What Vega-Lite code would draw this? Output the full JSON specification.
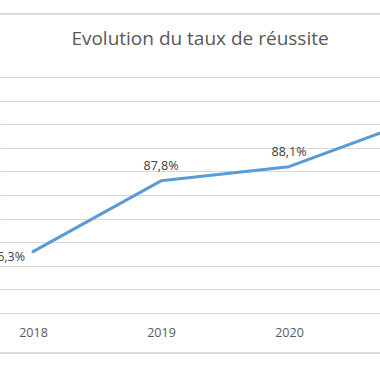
{
  "$schema": "https://vega.github.io/schema/vega-lite/v6.json",
  "autosize": {"type": "none"},
  "width": 380,
  "height": 236,
  "padding": {"top": 77, "left": 0, "right": 0, "bottom": 67},
  "background": "white",
  "title": {
    "text": "Evolution du taux de réussite",
    "font": "Open Sans",
    "fontSize": 19,
    "fontWeight": "normal",
    "color": "#595959",
    "anchor": "middle",
    "dx": 10,
    "offset": -36
  },
  "data": {
    "values": [
      {"annee": 2018, "taux": 86.3, "label": "86,3%"},
      {"annee": 2019, "taux": 87.8, "label": "87,8%"},
      {"annee": 2020, "taux": 88.1, "label": "88,1%"},
      {"annee": 2021, "taux": 89.1, "label": "89,1%"}
    ]
  },
  "config": {
    "view": {"stroke": null},
    "axis": {"labelFont": "Open Sans", "titleFont": "Open Sans"}
  },
  "encoding": {
    "x": {
      "field": "annee",
      "type": "quantitative",
      "scale": {"domain": [2017.742, 2020.711], "nice": false, "zero": false},
      "axis": {
        "title": null,
        "values": [2018, 2019, 2020, 2021],
        "format": "d",
        "grid": false,
        "domain": false,
        "ticks": false,
        "labelPadding": 13,
        "labelFontSize": 12.5,
        "labelColor": "#595959",
        "labelFlush": false,
        "labelOverlap": false
      }
    },
    "y": {
      "field": "taux",
      "type": "quantitative",
      "scale": {"domain": [85, 90], "nice": false, "zero": false},
      "axis": {
        "title": null,
        "values": [85, 85.5, 86, 86.5, 87, 87.5, 88, 88.5, 89, 89.5, 90],
        "labels": false,
        "ticks": false,
        "domain": false,
        "grid": true,
        "gridColor": "#d9d9d9",
        "gridWidth": 1
      }
    }
  },
  "layer": [
    {
      "mark": {"type": "rule", "clip": false, "color": "#d9d9d9", "strokeWidth": 1},
      "encoding": {
        "x": null,
        "y": {"datum": 91.335, "type": "quantitative"}
      }
    },
    {
      "mark": {"type": "rule", "clip": false, "color": "#d9d9d9", "strokeWidth": 1},
      "encoding": {
        "x": null,
        "y": {"datum": 84.153, "type": "quantitative"}
      }
    },
    {
      "mark": {"type": "line", "clip": true, "color": "#5B9BD5", "strokeWidth": 3, "strokeCap": "round", "strokeJoin": "round"}
    },
    {
      "transform": [{"filter": "datum.annee == 2018"}],
      "mark": {"type": "text", "font": "Open Sans", "fontSize": 12.5, "color": "#404040", "align": "right", "baseline": "middle", "dx": -8, "dy": 5},
      "encoding": {"text": {"field": "label"}}
    },
    {
      "transform": [{"filter": "datum.annee > 2018"}],
      "mark": {"type": "text", "font": "Open Sans", "fontSize": 12.5, "color": "#404040", "align": "center", "baseline": "middle", "dy": -15},
      "encoding": {"text": {"field": "label"}}
    }
  ]
}
